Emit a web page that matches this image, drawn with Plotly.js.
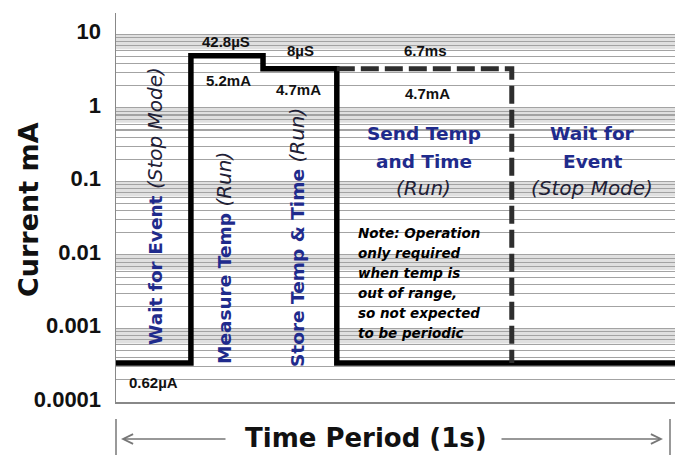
<!DOCTYPE html>
<html>
<head>
<meta charset="utf-8">
<script src="https://cdn.plot.ly/plotly-3.0.1.min.js"></script>
<style>html,body{margin:0;padding:0;background:#fff;}#chart{width:678px;height:455px;}</style>
</head>
<body>
<div id="chart"></div>
<script>
// ---- data (time in % of the 1 s period, current in mA) ----
const stepTime = [0, 13.4, 26.3, 39.5, 100];
const stepCurrent = [0.00034, 5.1, 3.4, 0.00034, 0.00034];
const sendTime = [39.5, 70.8, 70.8];
const sendCurrent = [3.4, 3.4, 0.00034];
const decadeExponents = [-4, -3, -2, -1, 0, 1];
const decadeLabels = ['0.0001', '0.001', '0.01', '0.1', '1', '10'];
const durationLabels = ['42.8µS', '8µS', '6.7ms'];
const currentLabels = ['5.2mA', '4.7mA', '4.7mA', '0.62µA'];
const phaseLabels = ['Wait for Event', 'Measure Temp', 'Store Temp &amp; Time'];
const sendLines = ['Send Temp', 'and Time', '(Run)'];
const waitLines = ['Wait for', 'Event', '(Stop Mode)'];
const noteLines = ['Note: Operation', 'only required', 'when temp is', 'out of range,', 'so not expected', 'to be periodic'];

// ---- layout helpers (pixel -> paper) ----
const L = 116, R = 675, T = 13, B = 402;
const px = x => (x - L) / (R - L);
const py = y => (B - y) / (B - T);

const NAVY = '#1f2b8c';
const DARK = '#1e2035';

// gridline positions: every 1..9 multiple of each decade
const tickvals = [], ticktext = [];
decadeExponents.forEach((e, i) => {
  for (let m = 1; m <= 9; m++) {
    if (e === 1 && m > 1) break;
    tickvals.push(m * Math.pow(10, e));
    ticktext.push(m === 1 ? decadeLabels[i] : '');
  }
});

const traces = [
  {x: stepTime, y: stepCurrent, type: 'scatter', mode: 'lines',
   line: {shape: 'hv', color: '#000', width: 5.5}, hoverinfo: 'skip', cliponaxis: false},
  {x: sendTime, y: sendCurrent, type: 'scatter', mode: 'lines',
   line: {color: '#2e2e2e', width: 5, dash: '18px,6px'}, hoverinfo: 'skip'}
];

// gray bands just below each decade line (paper coords)
const decadePx = (B - T) / 5.29;
const shapes = decadeExponents.slice(1).map(e => {
  const yTop = B - (e + 4) * decadePx;
  return {type: 'rect', xref: 'paper', yref: 'paper', x0: 0, x1: 1, y0: py(yTop + 15), y1: py(yTop),
    fillcolor: 'rgba(0,0,0,0.12)', line: {width: 0}, layer: 'between'};
});
// bottom period markers
shapes.push({type: 'line', xref: 'paper', yref: 'paper', x0: px(116), x1: px(116), y0: py(419), y1: py(455), line: {color: '#777', width: 1.5}});
shapes.push({type: 'line', xref: 'paper', yref: 'paper', x0: px(670), x1: px(670), y0: py(419), y1: py(455), line: {color: '#777', width: 1.5}});

const small = {family: 'Liberation Sans, Arial, sans-serif', size: 15, color: '#111', weight: 'bold'};
const ann = [];
function txt(text, x, y, font, extra) {
  ann.push(Object.assign({text: text, xref: 'paper', yref: 'paper', x: px(x), y: py(y),
    showarrow: false, xanchor: 'center', yanchor: 'middle', font: font}, extra || {}));
}
txt(durationLabels[0], 226, 42, small);
txt(durationLabels[1], 300, 50, small);
txt(durationLabels[2], 425, 51, small);
txt(currentLabels[0], 228, 81, small);
txt(currentLabels[1], 298, 90, small);
txt(currentLabels[2], 427, 93, small);
txt(currentLabels[3], 153, 382, small);

const vfont = {family: 'DejaVu Sans, sans-serif', size: 18.5, color: NAVY, weight: 'bold'};
const ital = s => ' <span style="font-weight:normal;font-style:italic;font-size:20px;fill:' + DARK + '">' + s + '</span>';
txt(phaseLabels[0] + ital('(Stop Mode)'), 155, 206, vfont, {textangle: -90});
txt(phaseLabels[1] + ital('(Run)'), 224, 258, vfont, {textangle: -90});
txt(phaseLabels[2] + ital('(Run)'), 297, 238, vfont, {textangle: -90});

const hfont = {family: 'DejaVu Sans, sans-serif', size: 18.5, color: NAVY, weight: 'bold'};
const ifont = {family: 'DejaVu Sans, sans-serif', size: 20, color: DARK, style: 'italic'};
const lineY = [133, 161, 188];
sendLines.forEach((s, i) => txt(s, 424, lineY[i], i === 2 ? ifont : hfont));
waitLines.forEach((s, i) => txt(s, 592, lineY[i], i === 2 ? ifont : hfont));

const nfont = {family: 'DejaVu Sans, sans-serif', size: 13.5, color: '#000', weight: 'bold', style: 'italic'};
noteLines.forEach((s, i) => txt(s, 356, 233 + i * 20, nfont, {xanchor: 'left'}));

// axis title and period label
txt('Current mA', 28, 210, {family: 'DejaVu Sans, sans-serif', size: 27, color: '#111', weight: 'bold'}, {textangle: -90});
txt('Time Period (1s)', 366, 438, {family: 'DejaVu Sans, sans-serif', size: 26, color: '#111', weight: 'bold'});
// arrows
ann.push({text: '', xref: 'paper', yref: 'paper', x: px(121), y: py(439), ax: 106, ay: 0,
  showarrow: true, arrowhead: 5, arrowsize: 1.3, arrowwidth: 1.5, arrowcolor: '#777'});
ann.push({text: '', xref: 'paper', yref: 'paper', x: px(663), y: py(439), ax: -163, ay: 0,
  showarrow: true, arrowhead: 5, arrowsize: 1.3, arrowwidth: 1.5, arrowcolor: '#777'});

const layout = {
  width: 678, height: 455,
  margin: {l: L, r: 678 - R, t: T, b: 455 - B},
  paper_bgcolor: '#fff', plot_bgcolor: 'rgba(0,0,0,0)',
  showlegend: false,
  xaxis: {range: [0, 100], showgrid: false, zeroline: false, showticklabels: false, ticks: '',
          showline: true, linecolor: '#888', linewidth: 1.5, fixedrange: true},
  yaxis: {type: 'log', range: [-4, 1.29], tickmode: 'array', tickvals: tickvals, ticktext: ticktext,
          showgrid: true, gridcolor: '#a3a3a3', gridwidth: 1.1, zeroline: false,
          showline: true, linecolor: '#888', linewidth: 1.5, ticks: '', ticklabelstandoff: 9,
          ticklabelshift: -3,
          tickfont: {family: 'Liberation Sans, Arial, sans-serif', size: 22, color: '#111', weight: 'bold'},
          fixedrange: true},
  shapes: shapes,
  annotations: ann
};

Plotly.newPlot('chart', traces, layout, {staticPlot: true, displayModeBar: false});
</script>
</body>
</html>
